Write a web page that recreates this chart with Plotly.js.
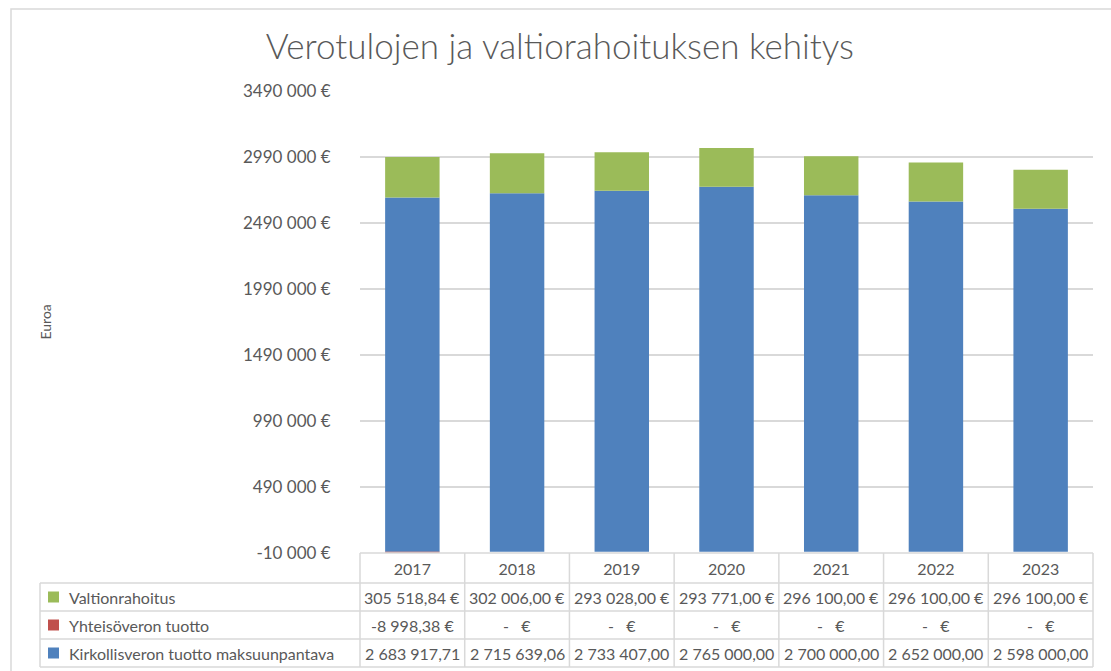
<!DOCTYPE html>
<html>
<head>
<meta charset="utf-8">
<script src="https://cdn.plot.ly/plotly-3.0.1.min.js"></script>
<style>html,body{margin:0;padding:0;background:#fff;}#chart{width:1111px;height:671px;}</style>
</head>
<body>
<div id="chart"></div>
<script>
const years = ['2017','2018','2019','2020','2021','2022','2023'];
const valtionrahoitus = [305518.84, 302006.00, 293028.00, 293771.00, 296100.00, 296100.00, 296100.00];
const yhteisovero = [-8998.38, 0, 0, 0, 0, 0, 0];
const kirkollisvero = [2683917.71, 2715639.06, 2733407.00, 2765000.00, 2700000.00, 2652000.00, 2598000.00];
const seriesNames = ['Valtionrahoitus', 'Yhteisöveron tuotto', 'Kirkollisveron tuotto maksuunpantava'];
const yTickVals = [-10000, 490000, 990000, 1490000, 1990000, 2490000, 2990000, 3490000];
const yTickLabels = ['-10 000 €', '490 000 €', '990 000 €', '1490 000 €', '1990 000 €', '2490 000 €', '2990 000 €', '3490 000 €'];

const NB = '\u00a0';
function fmtNum(v){
  const neg = v < 0;
  let [i, d] = Math.abs(v).toFixed(2).split('.');
  i = i.replace(/\B(?=(\d{3})+(?!\d))/g, NB);
  return (neg ? '-' : '') + i + ',' + d;
}
function fmtEuro(v){ return v === 0 ? '-' + NB + NB + NB + '€' : fmtNum(v) + NB + '€'; }

const cBlue = '#4F81BD', cRed = '#C0504D', cGreen = '#9BBB59';
const txt = '#595959', grid = '#D9D9D9';
const FONT = 'Lato, "Open Sans", sans-serif';

// pixel -> paper helpers (plot area 360..1093 x, 91..553 y)
const L = 360, R = 1093, T = 91, B = 553;
const px = x => (x - L) / (R - L);
const py = y => (B - y) / (B - T);

const traces = [
  {type:'bar', name:seriesNames[2], x:years, y:kirkollisvero, marker:{color:cBlue}, width:0.52},
  {type:'bar', name:seriesNames[1], x:years, y:yhteisovero, marker:{color:cRed}, width:0.52},
  {type:'bar', name:seriesNames[0], x:years, y:valtionrahoitus, marker:{color:cGreen}, width:0.52}
];

const rowTop = [553, 583, 611, 639, 667];
const colX = [L];
for (let k = 1; k <= years.length; k++) colX.push(L + (R - L) * k / years.length);

const shapes = [];
const line = (x0,y0,x1,y1) => shapes.push({type:'line', xref:'paper', yref:'paper', x0:px(x0), y0:py(y0), x1:px(x1), y1:py(y1), line:{color:grid, width:1.5}});
// outer chart border
shapes.push({type:'rect', xref:'paper', yref:'paper', x0:px(11), y0:py(700), x1:px(1130), y1:py(9), line:{color:grid, width:1.5}, fillcolor:'rgba(0,0,0,0)', layer:'below'});
// table horizontal lines
line(L, 553, R, 553);
for (let r = 1; r < rowTop.length; r++) line(40, rowTop[r], R, rowTop[r]);
// vertical lines
line(40, 583, 40, 667);
colX.forEach(x => line(x, 553, x, 667));

const annotations = [];
const rowData = [
  {name:seriesNames[0], color:cGreen, vals:valtionrahoitus.map(fmtEuro)},
  {name:seriesNames[1], color:cRed, vals:yhteisovero.map(fmtEuro)},
  {name:seriesNames[2], color:cBlue, vals:kirkollisvero.map(fmtNum)}
];
rowData.forEach((row, r) => {
  const yc = (rowTop[r+1] + rowTop[r+2]) / 2;
  shapes.push({type:'rect', xref:'paper', yref:'paper', x0:px(48), x1:px(59), y0:py(yc+5.5), y1:py(yc-5.5), fillcolor:row.color, line:{width:0}});
  annotations.push({xref:'paper', yref:'paper', x:px(67), y:py(yc), xanchor:'left', yanchor:'middle', showarrow:false, text:row.name, font:{family:FONT, size:16, color:txt}});
  row.vals.forEach((v, c) => {
    annotations.push({xref:'paper', yref:'paper', x:(c + 0.5) / years.length, y:py(yc), xanchor:'center', yanchor:'middle', showarrow:false, text:v, font:{family:FONT, size:16, color:txt}});
  });
});
annotations.push({xref:'paper', yref:'paper', x:px(34), y:py(322), showarrow:false, textangle:-90, text:'Euroa', font:{family:FONT, size:14, color:txt}});

const layout = {
  width:1111, height:671,
  margin:{l:L, r:1111-R, t:T, b:671-B, pad:0},
  paper_bgcolor:'#fff', plot_bgcolor:'#fff',
  barmode:'relative',
  showlegend:false,
  title:{text:'Verotulojen ja valtiorahoituksen kehitys', x:0.504, xanchor:'center', y:0.93, yanchor:'middle', font:{family:'Lato, "Open Sans", sans-serif', size:35, color:txt, weight:300}},
  xaxis:{type:'category', range:[-0.5, years.length - 0.5], autorange:false, showgrid:false, zeroline:false, showline:false, ticks:'outside', ticklen:2, tickcolor:'rgba(0,0,0,0)', tickfont:{family:FONT, size:16, color:txt}},
  yaxis:{range:[-10000, 3490000], autorange:false, tickvals:yTickVals, ticktext:yTickLabels, showgrid:true, gridcolor:grid, gridwidth:1.5, zeroline:false, showline:false, ticks:'outside', ticklen:25, tickcolor:'rgba(0,0,0,0)', tickfont:{family:FONT, size:17, color:txt}},
  shapes:shapes,
  annotations:annotations
};

Plotly.newPlot('chart', traces, layout, {displayModeBar:false, staticPlot:true});
</script>
</body>
</html>
